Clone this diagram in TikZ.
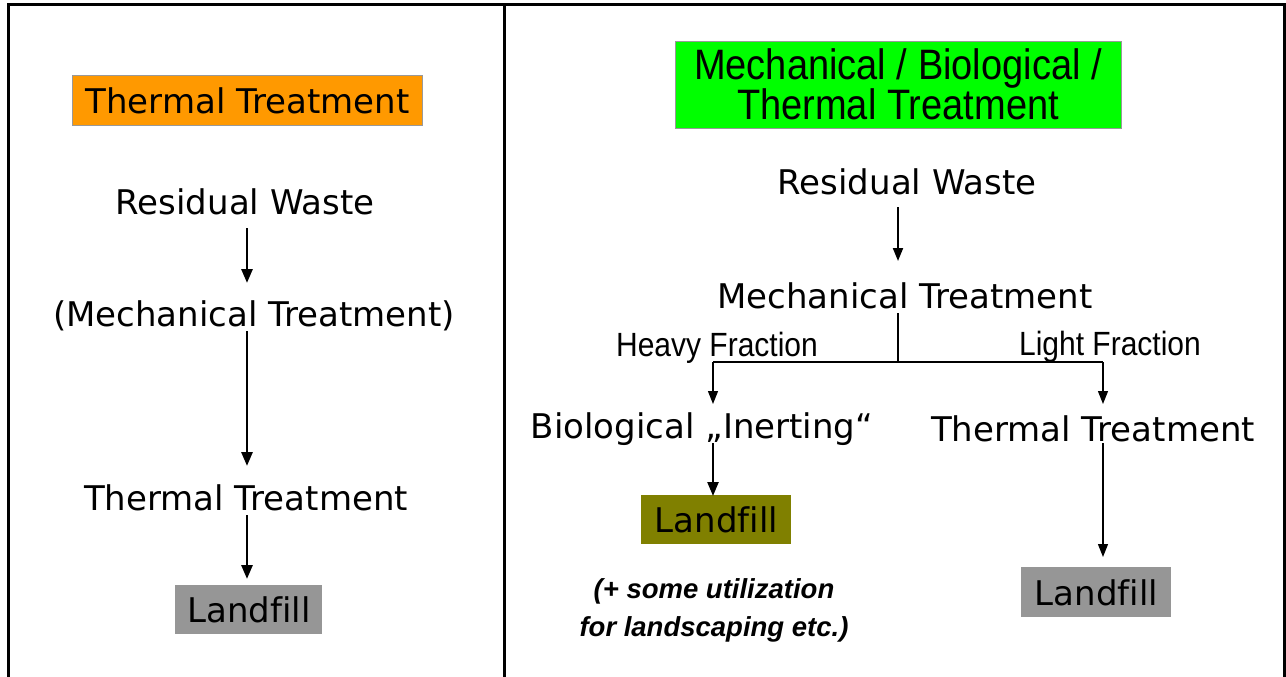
\documentclass[tikz,border=0pt]{standalone}
\usepackage{fontspec}
\setmainfont[Ligatures=NoCommon]{DejaVu Sans}
\newfontfamily\arialfont[Ligatures=NoCommon]{Liberation Sans}
\usetikzlibrary{arrows.meta}
\definecolor{orangefill}{HTML}{FF9900}
\definecolor{greenfill}{HTML}{00FF00}
\definecolor{olivefill}{HTML}{808000}
\definecolor{grayfill}{HTML}{969696}
\newcommand{\tallA}[1]{\scalebox{1}[1.12]{#1}}
\begin{document}
\begin{tikzpicture}[x=1pt,y=-1pt,
  lbl/.style={font=\fontsize{34}{40}\selectfont, inner sep=0pt, anchor=center},
  arl/.style={font=\arialfont\fontsize{30}{36}\selectfont, inner sep=0pt, anchor=center},
  boxnode/.style={inner sep=0pt, anchor=north west, draw=gray!80, line width=0.8pt},
  thick arrow/.style={-{Triangle[length=14pt,width=11pt]}, line width=2.8pt},
  thin arrow/.style={-{Triangle[length=13pt,width=10pt]}, line width=1.4pt},
  frame/.style={line width=3pt}
]
\useasboundingbox (0,0) rectangle (1286,677);
% frame
\draw[frame] (8,677) -- (8,5) -- (1284,5) -- (1284,677);
\draw[frame] (504,5) -- (504,677);

% ---------- left column ----------
\node[boxnode, fill=orangefill, minimum width=350pt, minimum height=50pt] (lhead) at (72,75) {};
\node[lbl] (lheadt) at (lhead.center) {Thermal Treatment};
\node[lbl] (lrw) at (245,202) {Residual Waste};
\node[lbl] (lmt) at (254,316) {(Mechanical Treatment)};
\node[lbl] (ltt) at (246,498) {Thermal Treatment};
\node[boxnode, fill=grayfill, draw=none, minimum width=147pt, minimum height=49pt] (llf) at (175,585) {};
\node[lbl] (llft) at (llf.center) {Landfill};
\coordinate (la1s) at (247,228); \coordinate (la1e) at (247,283);
\coordinate (la2s) at (247,331); \coordinate (la2e) at (247,466);
\coordinate (la3s) at (247,515); \coordinate (la3e) at (247,579);
\draw[thick arrow] (la1s) -- (la1e);
\draw[thick arrow] (la2s) -- (la2e);
\draw[thick arrow] (la3s) -- (la3e);

% ---------- right column ----------
\node[boxnode, fill=greenfill, minimum width=446pt, minimum height=87pt] (rhead) at (675,41) {};
\node[arl, font=\arialfont\fontsize{38}{36}\selectfont] (rh1) at (898,68) {\tallA{Mechanical / Biological /}};
\node[arl, font=\arialfont\fontsize{38}{36}\selectfont] (rh2) at (898,104) {\tallA{Thermal Treatment}};
\node[lbl] (rrw) at (907,182) {Residual Waste};
\node[lbl] (rmt) at (905,296) {Mechanical Treatment};
\node[arl] (hf) at (717,348) {\tallA{Heavy Fraction}};
\node[arl] (lf) at (1110,347) {\tallA{Light Fraction}};
\node[lbl] (bio) at (702,429) {Biological „Inerting“};
\node[lbl] (rtt) at (1093,429) {Thermal Treatment};
\node[boxnode, fill=olivefill, draw=none, minimum width=150pt, minimum height=49pt] (olf) at (641,495) {};
\node[lbl] (olft) at (olf.center) {Landfill};
\node[boxnode, fill=grayfill, draw=none, minimum width=150pt, minimum height=50pt] (rlf) at (1021,567) {};
\node[lbl] (rlft) at (rlf.center) {Landfill};
\node[font=\arialfont\bfseries\itshape\fontsize{27.5}{38}\selectfont, align=center, inner sep=0pt] (note) at (714,610) {(+ some utilization\\for landscaping etc.)};

\coordinate (ra1s) at (898,207); \coordinate (ra1e) at (898,261);
\coordinate (split) at (898,362);
\coordinate (hl) at (713,362); \coordinate (hr) at (1103,362);
\coordinate (hle) at (713,404); \coordinate (hre) at (1103,404);
\coordinate (ba1s) at (713,443); \coordinate (ba1e) at (713,496);
\coordinate (ta1s) at (1103,443); \coordinate (ta1e) at (1103,557);
\draw[thin arrow, line width=2pt] (ra1s) -- (ra1e);
\draw[line width=1.3pt] (898,313) -- (split);
\draw[line width=1.3pt] (hl) -- (hr);
\draw[thin arrow, line width=1.3pt] (hl) -- (hle);
\draw[thin arrow, line width=1.3pt] (hr) -- (hre);
\draw[thick arrow, line width=2.4pt] (ba1s) -- (ba1e);
\draw[thin arrow, line width=1.3pt] (ta1s) -- (ta1e);
\end{tikzpicture}
\end{document}
